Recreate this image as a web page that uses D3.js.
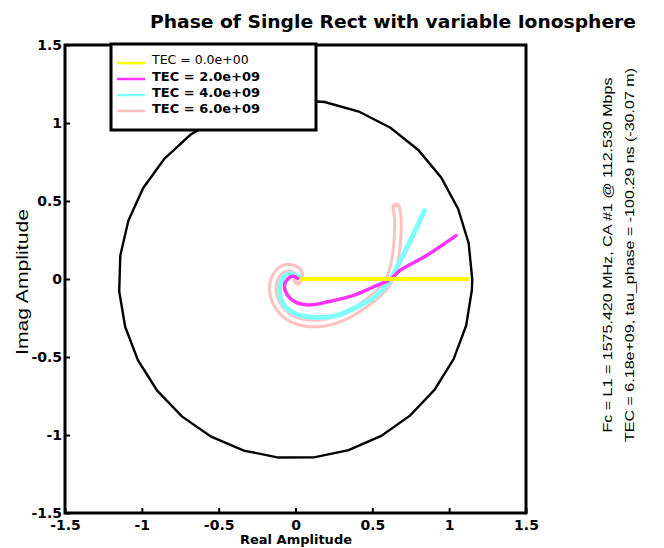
<!DOCTYPE html>
<html>
<head>
<meta charset="utf-8">
<script src="https://cdn.jsdelivr.net/npm/d3@7"></script>
<style>
  body { margin: 0; background: #fff; }
  svg { display: block; }
</style>
</head>
<body>
<script>
//////////////// Variables ////////////////////
var W = 664, H = 548;
var plot = {left: 65, right: 526, top: 45, bottom: 513};

//////////////// Datas ////////////////////
var xTicks = [-1.5, -1, -0.5, 0, 0.5, 1, 1.5];
var yTicks = [-1.5, -1, -0.5, 0, 0.5, 1, 1.5];
var tecLabels = ["TEC = 0.0e+00", "TEC = 2.0e+09", "TEC = 4.0e+09", "TEC = 6.0e+09"];
var tecColors = ["#ffff00", "#ff33ff", "#80ffff", "#ffc0c0"];

// reference circle (drawn as polygon)
var circleRadius = 1.15;
var circleStepDeg = 11.5;

// TEC = 0 : flat line on the real axis
var tec0Re = [0.03, 0.3, 0.6, 0.9, 1.13];
var tec0Im = [0, 0, 0, 0, 0];

// TEC = 2e9
var tec2Re = [0.015, -0.017, -0.05, -0.072, -0.05, 0.004, 0.091, 0.243, 0.373, 0.503, 0.62, 0.677, 0.85, 1.045];
var tec2Im = [0.004, 0.017, 0, -0.043, -0.107, -0.15, -0.167, -0.139, -0.107, -0.053, 0, 0.053, 0.149, 0.278];

// TEC = 4e9
var tec4Re = [0.02, -0.017, -0.061, -0.093, -0.104, -0.072, 0.004, 0.113, 0.265, 0.416, 0.525, 0.62, 0.677, 0.763, 0.839];
var tec4Im = [0.011, 0.032, 0.026, -0.011, -0.085, -0.171, -0.224, -0.246, -0.235, -0.171, -0.107, 0, 0.107, 0.278, 0.438];

// TEC = 6e9
var tec6Re = [0.015, 0.026, -0.007, -0.072, -0.126, -0.148, -0.115, -0.039, 0.07, 0.178, 0.308, 0.438, 0.547, 0.612, 0.644, 0.66, 0.666, 0.655];
var tec6Im = [-0.011, 0.026, 0.064, 0.069, 0.021, -0.064, -0.171, -0.246, -0.282, -0.282, -0.246, -0.171, -0.085, 0, 0.107, 0.214, 0.385, 0.46];

function zip(re, im) {
  return re.map(function(d, i) { return {x: d, y: im[i]}; });
}

//////////////// SVG ////////////////////
var svg = d3.select("body").append("svg")
  .attr("width", W)
  .attr("height", H);

//////////////// Scaling ///////////////
var xScale = d3.scaleLinear().domain([-1.5, 1.5]).range([plot.left, plot.right]);
var yScale = d3.scaleLinear().domain([-1.5, 1.5]).range([plot.bottom, plot.top]);

var line = d3.line()
  .x(function(d) { return xScale(d.x); })
  .y(function(d) { return yScale(d.y); })
  .curve(d3.curveCatmullRom.alpha(0.5));

//////////////// Circle ///////////////
var circlePts = d3.range(0, 360, circleStepDeg).map(function(a) {
  var r = a * Math.PI / 180;
  return [xScale(circleRadius * Math.cos(r)), yScale(circleRadius * Math.sin(r))];
});
svg.append("path")
  .attr("d", d3.line()(circlePts) + "Z")
  .attr("fill", "none")
  .attr("stroke", "#000")
  .attr("stroke-width", 2.4);

//////////////// Curves ///////////////
// pink: hollow band (open markers in the original)
svg.append("path").datum(zip(tec6Re, tec6Im))
  .attr("d", line).attr("fill", "none")
  .attr("stroke", tecColors[3]).attr("stroke-width", 9.5)
  .attr("stroke-linejoin", "round").attr("stroke-linecap", "round");
svg.append("path").datum(zip(tec6Re, tec6Im))
  .attr("d", line).attr("fill", "none")
  .attr("stroke", "#fff").attr("stroke-width", 3.5)
  .attr("stroke-linejoin", "round");

svg.append("path").datum(zip(tec4Re, tec4Im))
  .attr("d", line).attr("fill", "none")
  .attr("stroke", tecColors[2]).attr("stroke-width", 5)
  .attr("stroke-linejoin", "round").attr("stroke-linecap", "round");

svg.append("path").datum(zip(tec2Re, tec2Im))
  .attr("d", line).attr("fill", "none")
  .attr("stroke", tecColors[1]).attr("stroke-width", 3.5)
  .attr("stroke-linejoin", "round").attr("stroke-linecap", "round");

svg.append("path").datum(zip(tec0Re, tec0Im))
  .attr("d", d3.line().x(function(d) { return xScale(d.x); }).y(function(d) { return yScale(d.y); }))
  .attr("fill", "none")
  .attr("stroke", tecColors[0]).attr("stroke-width", 4);

//////////////// Axis ///////////////
var xAxis = d3.axisBottom(xScale).tickValues(xTicks).tickSizeInner(-5).tickSizeOuter(0).tickPadding(9)
  .tickFormat(function(d) { return String(d); });
var yAxis = d3.axisLeft(yScale).tickValues(yTicks).tickSizeInner(-5).tickSizeOuter(0).tickPadding(3)
  .tickFormat(function(d) { return String(d); });

var gx = svg.append("g")
  .attr("transform", "translate(0," + plot.bottom + ")")
  .call(xAxis);
var gy = svg.append("g")
  .attr("transform", "translate(" + plot.left + ",0)")
  .call(yAxis);

[gx, gy].forEach(function(g) {
  g.select(".domain").remove();
  g.selectAll(".tick line").attr("stroke", "#000").attr("stroke-width", 2);
  g.selectAll(".tick text")
    .attr("fill", "#000")
    .style("font-family", "DejaVu Sans")
    .style("font-weight", "bold")
    .style("font-size", "14px");
});
gx.selectAll(".tick text").attr("dy", "0.6em");
gy.selectAll(".tick text").attr("dy", "0.35em");

// frame
svg.append("rect")
  .attr("x", plot.left).attr("y", plot.top)
  .attr("width", plot.right - plot.left).attr("height", plot.bottom - plot.top)
  .attr("fill", "none").attr("stroke", "#000").attr("stroke-width", 3);

//////////////// Legend ///////////////
var legend = svg.append("g");
legend.append("rect")
  .attr("x", 111).attr("y", 44).attr("width", 205).attr("height", 86)
  .attr("fill", "#fff").attr("stroke", "#000").attr("stroke-width", 3);

var rows = legend.selectAll("g.row")
  .data(tecLabels)
  .enter().append("g")
  .attr("class", "row")
  .attr("transform", function(d, i) { return "translate(0," + (60 + i * 16) + ")"; });

rows.append("line")
  .attr("x1", 117).attr("x2", 145).attr("y1", 3).attr("y2", 3)
  .attr("stroke", function(d, i) { return tecColors[i]; })
  .attr("stroke-width", 2.5);

rows.append("text")
  .attr("x", 152).attr("y", 0).attr("dy", "0.35em")
  .style("font-family", "DejaVu Sans")
  .style("font-size", function(d, i) { return i === 0 ? "12.5px" : "13px"; })
  .style("font-weight", function(d, i) { return i === 0 ? "normal" : "bold"; })
  .text(function(d) { return d; });

//////////////// Labels ///////////////
svg.append("text")
  .attr("x", 393).attr("y", 28)
  .attr("text-anchor", "middle")
  .attr("textLength", 486).attr("lengthAdjust", "spacingAndGlyphs")
  .style("font-family", "DejaVu Sans")
  .style("font-weight", "bold")
  .style("font-size", "18.5px")
  .text("Phase of Single Rect with variable Ionosphere");

svg.append("text")
  .attr("x", 296).attr("y", 544)
  .attr("text-anchor", "middle")
  .style("font-family", "DejaVu Sans")
  .style("font-weight", "bold")
  .style("font-size", "13px")
  .text("Real Amplitude");

svg.append("text")
  .attr("transform", "translate(28,282) rotate(-90)")
  .attr("text-anchor", "middle")
  .attr("textLength", 146).attr("lengthAdjust", "spacingAndGlyphs")
  .style("font-family", "Liberation Sans")
  .style("font-size", "17px")
  .text("Imag Amplitude");

svg.append("text")
  .attr("transform", "translate(612,255) rotate(-90)")
  .attr("text-anchor", "middle")
  .attr("textLength", 355).attr("lengthAdjust", "spacingAndGlyphs")
  .style("font-family", "Liberation Sans")
  .style("font-size", "13px")
  .text("Fc = L1 = 1575.420 MHz, CA #1 @ 112.530 Mbps");

svg.append("text")
  .attr("transform", "translate(634,255) rotate(-90)")
  .attr("text-anchor", "middle")
  .attr("textLength", 374).attr("lengthAdjust", "spacingAndGlyphs")
  .style("font-family", "Liberation Sans")
  .style("font-size", "13px")
  .text("TEC = 6.18e+09, tau_phase = -100.29 ns (-30.07 m)");
</script>
</body>
</html>
